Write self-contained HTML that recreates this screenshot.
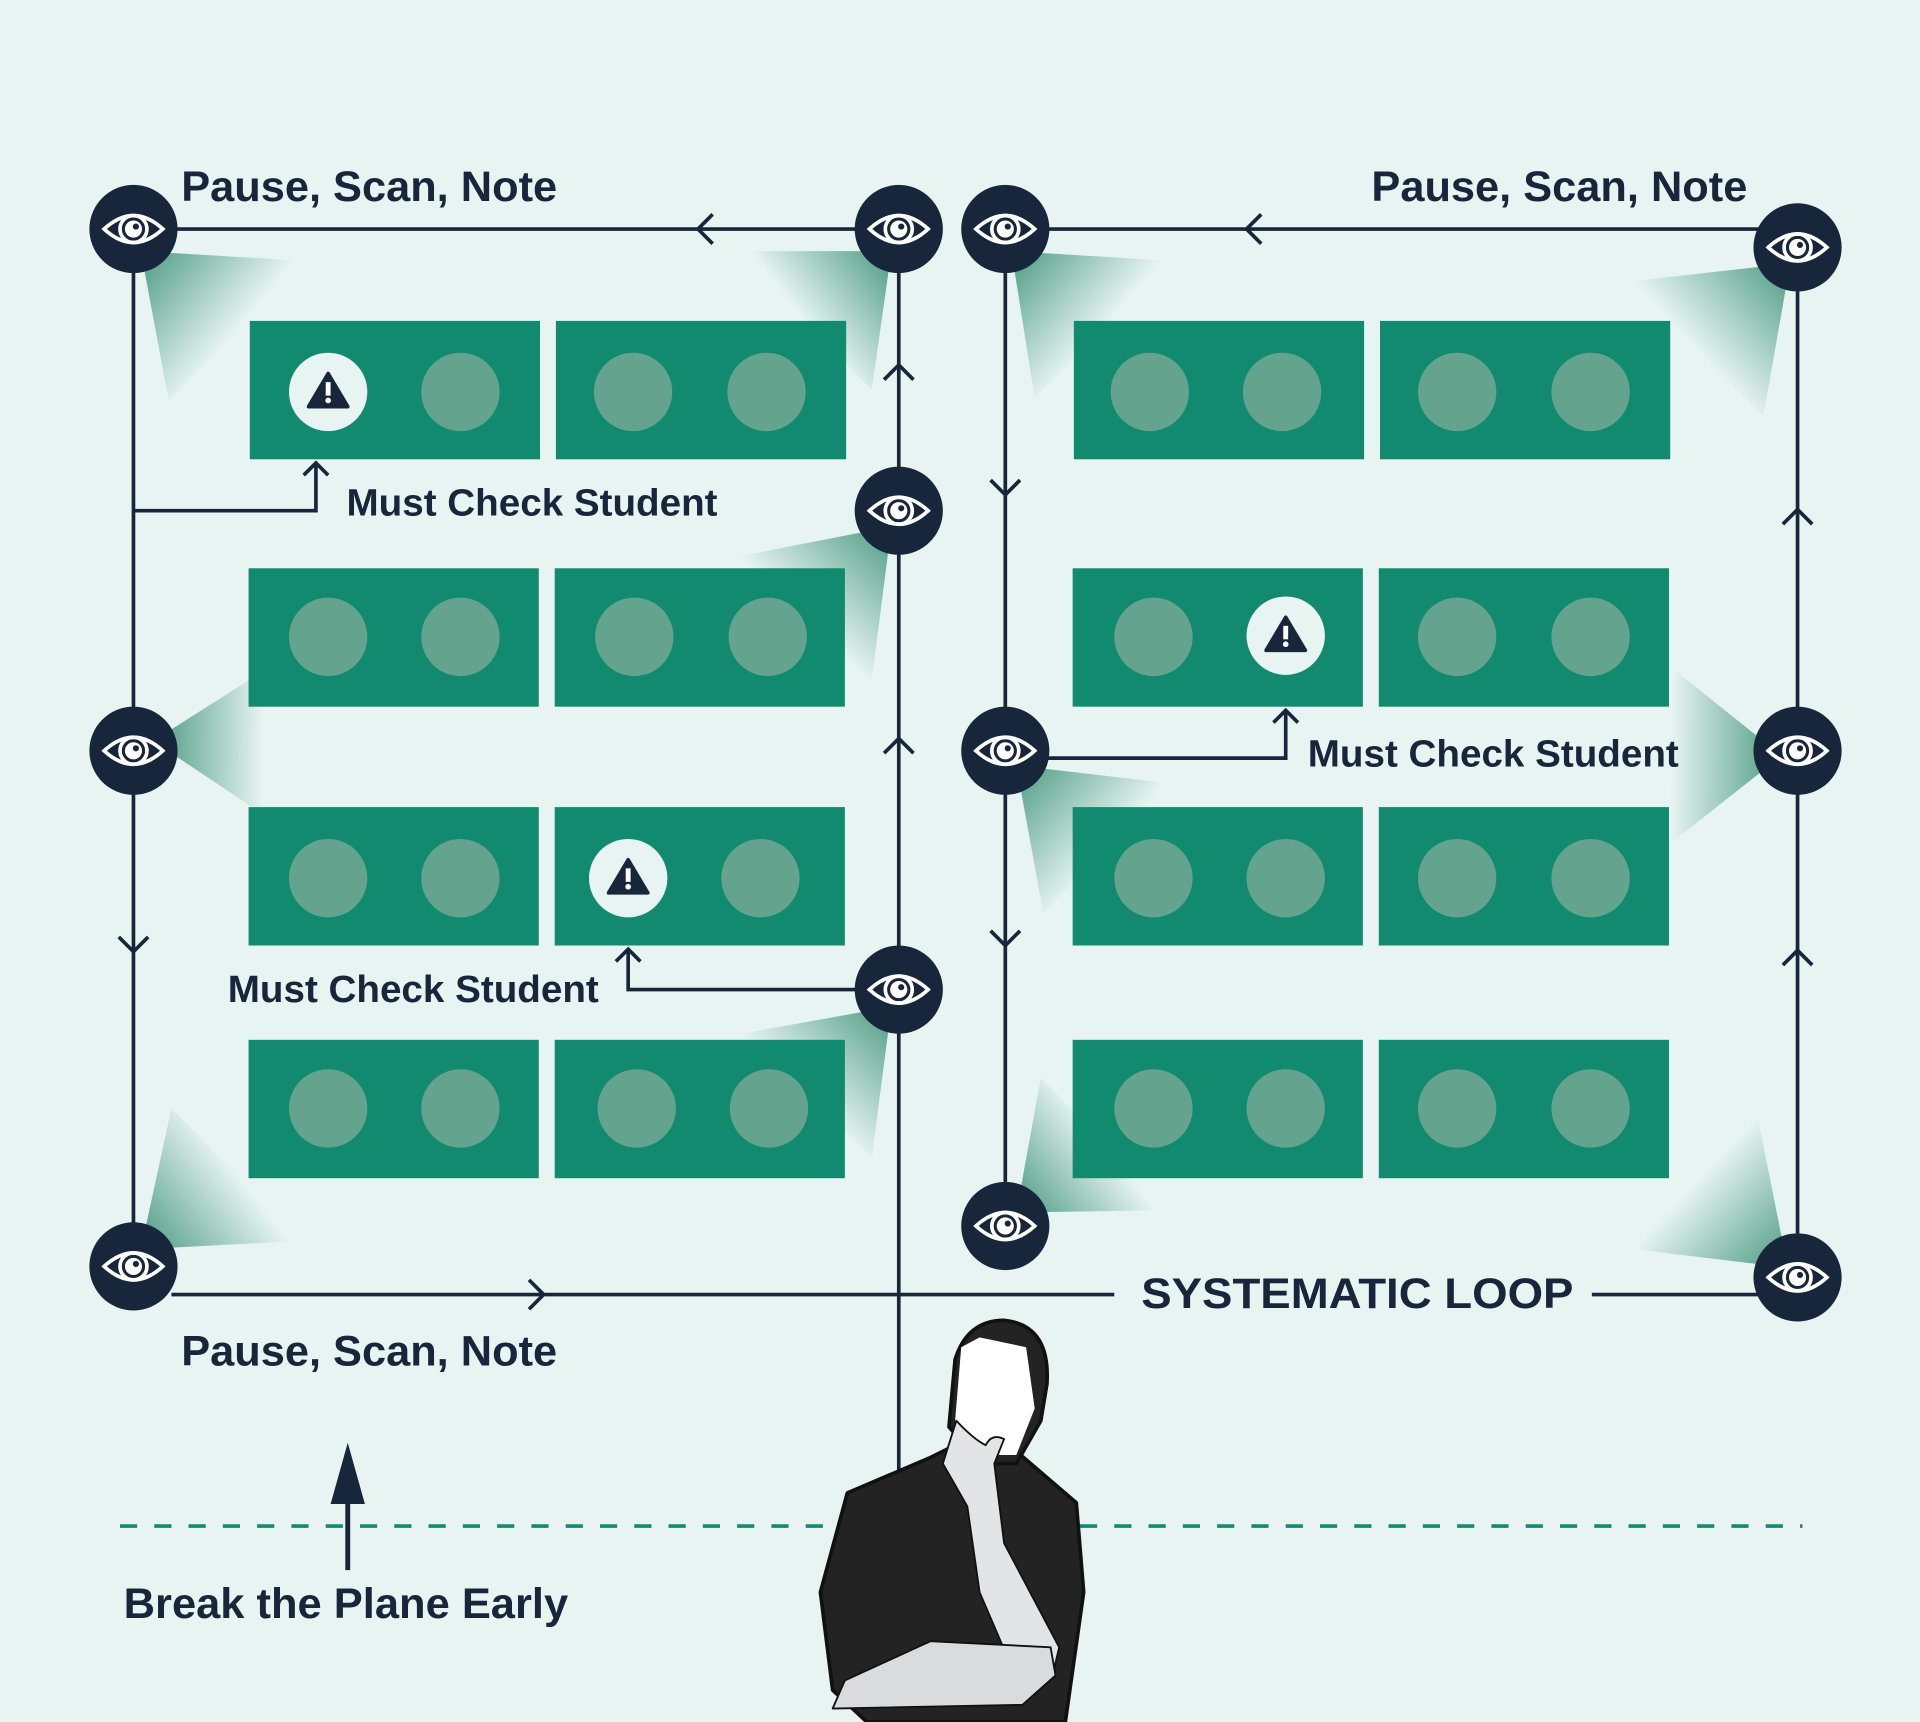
<!DOCTYPE html>
<html><head><meta charset="utf-8"><style>html,body{margin:0;padding:0;background:#e7f4f1}svg{display:block}text{font-family:"Liberation Sans",sans-serif;font-weight:bold;fill:#17263a}</style></head><body>
<svg width="1920" height="1722" viewBox="0 0 1568 1406" preserveAspectRatio="none" xmlns="http://www.w3.org/2000/svg">
<defs>
<symbol id="eye" viewBox="-36 -36 72 72" overflow="visible">
<circle r="36" fill="#17263a"/>
<path d="M-24,0 Q0,-22 24,0 Q0,22 -24,0Z" fill="none" stroke="#fff" stroke-width="3"/>
<circle r="11" fill="none" stroke="#fff" stroke-width="3"/>
<circle r="7" fill="#fff"/><circle cx="2" cy="-2" r="2.5" fill="#17263a"/>
</symbol>
<symbol id="warn" viewBox="-32 -32 64 64" overflow="visible">
<circle r="32" fill="#e7f4f1"/>
<path d="M0,-15 L16,12 L-16,12Z" fill="#17263a" stroke="#17263a" stroke-width="3" stroke-linejoin="round"/>
<rect x="-2" y="-8" width="4" height="11" fill="#fff"/><circle cy="7" r="2.3" fill="#fff"/>
</symbol>
<linearGradient id="g0" gradientUnits="userSpaceOnUse" x1="115" y1="205" x2="193" y2="270"><stop offset="0" stop-color="#2f8a6e" stop-opacity=".85"/><stop offset="1" stop-color="#2f8a6e" stop-opacity="0"/></linearGradient>
<linearGradient id="g1" gradientUnits="userSpaceOnUse" x1="728" y1="205" x2="656" y2="261"><stop offset="0" stop-color="#2f8a6e" stop-opacity=".85"/><stop offset="1" stop-color="#2f8a6e" stop-opacity="0"/></linearGradient>
<linearGradient id="g2" gradientUnits="userSpaceOnUse" x1="826" y1="205" x2="900" y2="269"><stop offset="0" stop-color="#2f8a6e" stop-opacity=".85"/><stop offset="1" stop-color="#2f8a6e" stop-opacity="0"/></linearGradient>
<linearGradient id="g3" gradientUnits="userSpaceOnUse" x1="1462" y1="215" x2="1385" y2="285"><stop offset="0" stop-color="#2f8a6e" stop-opacity=".85"/><stop offset="1" stop-color="#2f8a6e" stop-opacity="0"/></linearGradient>
<linearGradient id="g4" gradientUnits="userSpaceOnUse" x1="728" y1="430" x2="656" y2="505"><stop offset="0" stop-color="#2f8a6e" stop-opacity=".85"/><stop offset="1" stop-color="#2f8a6e" stop-opacity="0"/></linearGradient>
<linearGradient id="g5" gradientUnits="userSpaceOnUse" x1="125" y1="605" x2="215" y2="606"><stop offset="0" stop-color="#2f8a6e" stop-opacity=".85"/><stop offset="1" stop-color="#2f8a6e" stop-opacity="0"/></linearGradient>
<linearGradient id="g6" gradientUnits="userSpaceOnUse" x1="830" y1="625" x2="906" y2="692"><stop offset="0" stop-color="#2f8a6e" stop-opacity=".85"/><stop offset="1" stop-color="#2f8a6e" stop-opacity="0"/></linearGradient>
<linearGradient id="g7" gradientUnits="userSpaceOnUse" x1="1455" y1="617" x2="1365" y2="616"><stop offset="0" stop-color="#2f8a6e" stop-opacity=".85"/><stop offset="1" stop-color="#2f8a6e" stop-opacity="0"/></linearGradient>
<linearGradient id="g8" gradientUnits="userSpaceOnUse" x1="728" y1="822" x2="656" y2="895"><stop offset="0" stop-color="#2f8a6e" stop-opacity=".85"/><stop offset="1" stop-color="#2f8a6e" stop-opacity="0"/></linearGradient>
<linearGradient id="g9" gradientUnits="userSpaceOnUse" x1="830" y1="990" x2="902" y2="934"><stop offset="0" stop-color="#2f8a6e" stop-opacity=".85"/><stop offset="1" stop-color="#2f8a6e" stop-opacity="0"/></linearGradient>
<linearGradient id="g10" gradientUnits="userSpaceOnUse" x1="115" y1="1020" x2="194" y2="959"><stop offset="0" stop-color="#2f8a6e" stop-opacity=".85"/><stop offset="1" stop-color="#2f8a6e" stop-opacity="0"/></linearGradient>
<linearGradient id="g11" gradientUnits="userSpaceOnUse" x1="1460" y1="1035" x2="1385" y2="965"><stop offset="0" stop-color="#2f8a6e" stop-opacity=".85"/><stop offset="1" stop-color="#2f8a6e" stop-opacity="0"/></linearGradient>
</defs>
<rect width="1568" height="1406" fill="#e7f4f1"/>
<!-- cones -->
<polygon points="115,205 248,213 138,328" fill="url(#g0)"/>
<polygon points="728,205 600,205 712,318" fill="url(#g1)"/>
<polygon points="826,205 955,213 845,325" fill="url(#g2)"/>
<polygon points="1462,215 1330,230 1440,340" fill="url(#g3)"/>
<polygon points="728,430 600,455 712,555" fill="url(#g4)"/>
<polygon points="125,605 215,548 215,665" fill="url(#g5)"/>
<polygon points="830,625 960,640 852,745" fill="url(#g6)"/>
<polygon points="1455,617 1365,545 1365,688" fill="url(#g7)"/>
<polygon points="728,822 600,845 712,945" fill="url(#g8)"/>
<polygon points="830,990 850,880 955,988" fill="url(#g9)"/>
<polygon points="115,1020 140,905 248,1013" fill="url(#g10)"/>
<polygon points="1460,1035 1335,1020 1435,910" fill="url(#g11)"/>
<!-- desks -->
<g fill="#128a6f">
<rect x="204" y="262" width="237" height="113"/><rect x="454" y="262" width="237" height="113"/>
<rect x="203" y="464" width="237" height="113"/><rect x="453" y="464" width="237" height="113"/>
<rect x="203" y="659" width="237" height="113"/><rect x="453" y="659" width="237" height="113"/>
<rect x="203" y="849" width="237" height="113"/><rect x="453" y="849" width="237" height="113"/>
<rect x="877" y="262" width="237" height="113"/><rect x="1127" y="262" width="237" height="113"/>
<rect x="876" y="464" width="237" height="113"/><rect x="1126" y="464" width="237" height="113"/>
<rect x="876" y="659" width="237" height="113"/><rect x="1126" y="659" width="237" height="113"/>
<rect x="876" y="849" width="237" height="113"/><rect x="1126" y="849" width="237" height="113"/>
</g>
<g fill="#64a48f">
<circle cx="376" cy="320" r="32"/><circle cx="517" cy="320" r="32"/><circle cx="626" cy="320" r="32"/>
<circle cx="268" cy="520" r="32"/><circle cx="376" cy="520" r="32"/><circle cx="518" cy="520" r="32"/><circle cx="627" cy="520" r="32"/>
<circle cx="268" cy="717" r="32"/><circle cx="376" cy="717" r="32"/><circle cx="621" cy="717" r="32"/>
<circle cx="268" cy="905" r="32"/><circle cx="376" cy="905" r="32"/><circle cx="520" cy="905" r="32"/><circle cx="628" cy="905" r="32"/>
<circle cx="939" cy="320" r="32"/><circle cx="1047" cy="320" r="32"/><circle cx="1190" cy="320" r="32"/><circle cx="1299" cy="320" r="32"/>
<circle cx="942" cy="520" r="32"/><circle cx="1190" cy="520" r="32"/><circle cx="1299" cy="520" r="32"/>
<circle cx="942" cy="717" r="32"/><circle cx="1050" cy="717" r="32"/><circle cx="1190" cy="717" r="32"/><circle cx="1299" cy="717" r="32"/>
<circle cx="942" cy="905" r="32"/><circle cx="1050" cy="905" r="32"/><circle cx="1190" cy="905" r="32"/><circle cx="1299" cy="905" r="32"/>
</g>
<use href="#warn" x="236" y="288" width="64" height="64"/>
<use href="#warn" x="481" y="685" width="64" height="64"/>
<use href="#warn" x="1018" y="487" width="64" height="64"/>
<!-- lines -->
<g stroke="#17263a" stroke-width="3" fill="none">
<path d="M109,187H734M109,187V1034M734,187V1200M821,187H1468M821,187V1001M1468,202V1043M140,1057H910M1300,1057H1440"/>
<path d="M109,417H258V378M734,808H513V775M821,619H1050V580"/>
<path d="M582,175L570,187L582,199M1030,175L1018,187L1030,199M432,1045L444,1057L432,1069"/>
<path d="M722,310L734,298L746,310M722,615L734,603L746,615M1456,428L1468,416L1480,428M1456,788L1468,776L1480,788"/>
<path d="M809,392L821,404L833,392M809,760L821,772L833,760M97,765L109,777L121,765"/>
<path d="M248,388L258,378L268,388M503,785L513,775L523,785M1040,590L1050,580L1060,590"/>
</g>
<path d="M98,1246H1472" stroke="#128a6f" stroke-width="3" stroke-dasharray="14 14"/>
<path d="M284,1282V1220" stroke="#17263a" stroke-width="4"/>
<path d="M270,1228L284,1178L298,1228Z" fill="#17263a"/>
<!-- eyes -->
<g>
<use href="#eye" x="73" y="151" width="72" height="72"/><use href="#eye" x="698" y="151" width="72" height="72"/>
<use href="#eye" x="785" y="151" width="72" height="72"/><use href="#eye" x="1432" y="166" width="72" height="72"/>
<use href="#eye" x="698" y="381" width="72" height="72"/><use href="#eye" x="73" y="577" width="72" height="72"/>
<use href="#eye" x="785" y="577" width="72" height="72"/><use href="#eye" x="1432" y="577" width="72" height="72"/>
<use href="#eye" x="698" y="772" width="72" height="72"/><use href="#eye" x="785" y="965" width="72" height="72"/>
<use href="#eye" x="73" y="998" width="72" height="72"/><use href="#eye" x="1432" y="1007" width="72" height="72"/>
</g>
<!-- text -->
<text x="148" y="164" font-size="35" textLength="307" lengthAdjust="spacingAndGlyphs">Pause, Scan, Note</text>
<text x="1120" y="164" font-size="35" textLength="307" lengthAdjust="spacingAndGlyphs">Pause, Scan, Note</text>
<text x="148" y="1115" font-size="35" textLength="307" lengthAdjust="spacingAndGlyphs">Pause, Scan, Note</text>
<text x="283" y="421" font-size="31" textLength="303" lengthAdjust="spacingAndGlyphs">Must Check Student</text>
<text x="186" y="818" font-size="31" textLength="303" lengthAdjust="spacingAndGlyphs">Must Check Student</text>
<text x="1068" y="626" font-size="31" textLength="303" lengthAdjust="spacingAndGlyphs">Must Check Student</text>
<text x="932" y="1068" font-size="35" textLength="353" lengthAdjust="spacingAndGlyphs">SYSTEMATIC LOOP</text>
<text x="101" y="1321" font-size="35" textLength="363" lengthAdjust="spacingAndGlyphs">Break the Plane Early</text>
<!-- person -->
<g stroke="#111" stroke-width="3" stroke-linejoin="round">
<path d="M692,1219L760,1190L790,1175L830,1185L879,1227L885,1300L870,1406L708,1406L680,1380L670,1300Z" fill="#232323"/>
<path d="M780,1110Q790,1078 820,1078Q858,1082 855,1130L850,1160L830,1195L800,1195L775,1165Z" fill="#232323"/>
<path d="M785,1100L800,1092L838,1100L845,1150L830,1188L800,1188L780,1160Z" fill="#fff" stroke="none"/>
<path d="M781,1160Q795,1175 805,1180Q810,1170 820,1175L812,1195L820,1260L865,1345L860,1366L830,1370L800,1300L790,1230L770,1195Z" fill="#e2e4e6" stroke-width="1.5"/>
<path d="M690,1372L680,1395L835,1392L862,1368L858,1345L760,1340Z" fill="#d9dbdd" stroke-width="1.5"/>
</g>
</svg>
</body></html>
